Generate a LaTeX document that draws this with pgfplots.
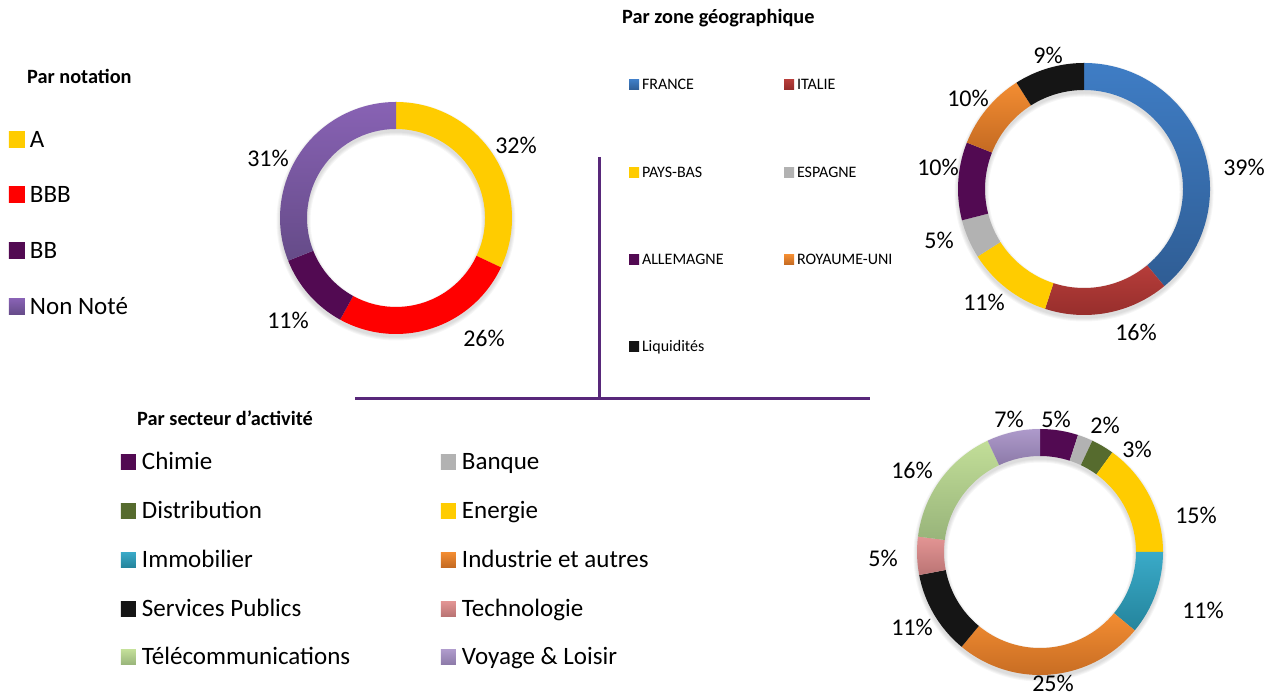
\documentclass[border=0pt]{standalone}
\usepackage{fontspec}
\setmainfont{Carlito}
\usepackage{pgfplots}
\usepackage{pgfplotstable}
\pgfplotsset{compat=1.18}

% colours
\definecolor{cYel}{HTML}{FFCC00}
\definecolor{cRed}{HTML}{FF0000}
\definecolor{cPlum}{HTML}{520A52}
\definecolor{cNNt}{HTML}{8862B4}
\definecolor{cNNb}{HTML}{654B88}
\definecolor{cFRt}{HTML}{3F7DC5}
\definecolor{cFRb}{HTML}{2F5D94}
\definecolor{cITt}{HTML}{B63D3A}
\definecolor{cITb}{HTML}{932C2A}
\definecolor{cGray}{HTML}{B2B2B2}
\definecolor{cOrt}{HTML}{F38D32}
\definecolor{cOrb}{HTML}{C46A22}
\definecolor{cBlk}{HTML}{151515}
\definecolor{cDist}{HTML}{566B2E}
\definecolor{cImt}{HTML}{3AAAC8}
\definecolor{cImb}{HTML}{24849C}
\definecolor{cTet}{HTML}{E39594}
\definecolor{cTeb}{HTML}{BA7474}
\definecolor{cTlt}{HTML}{C2DE98}
\definecolor{cTlb}{HTML}{98B47A}
\definecolor{cVot}{HTML}{AE9ACB}
\definecolor{cVob}{HTML}{8C7AA8}
\definecolor{cLine}{RGB}{88,40,122}

% data: percentage, label offset from centre (x, y), top / bottom colour
\pgfplotstableread{
pct lx ly ct cb
32 120 73 cYel cYel
26 88 -120 cRed cRed
11 -108 -102 cPlum cPlum
31 -128 60 cNNt cNNb
}\tabnotation

\pgfplotstableread{
pct lx ly ct cb
39 160 22 cFRt cFRb
16 52 -143 cITt cITb
11 -100 -113 cYel cYel
5 -145 -51 cGray cGray
10 -146 22 cPlum cPlum
10 -116 91 cOrt cOrb
9 -36 134 cBlk cBlk
}\tabgeo

\pgfplotstableread{
pct lx ly ct cb
5 16 133 cPlum cPlum
2 65 127 cGray cGray
3 97 103 cDist cDist
15 156 37 cYel cYel
11 163 -58 cImt cImb
25 13 -131 cOrt cOrb
11 -128 -75 cBlk cBlk
5 -157 -6 cTet cTeb
16 -128 82 cTlt cTlb
7 -31 133 cVot cVob
}\tabsector

\newcommand\pctfont{\fontsize{24}{28}\selectfont}
\newcommand\geocell[1]{\makebox[136pt][l]{#1}}
\newcommand\seccell[1]{\makebox[280pt][l]{#1}}

% #1 table, #2 cx, #3 cy, #4 outer radius, #5 inner radius
\newcommand\donut[5]{%
  % soft shadow below the ring
  \pgfplotsforeachungrouped \dK in {0.5,1.5,2.5,3.5}{%
    \edef\dTemp{\noexpand\fill[black, opacity=0.035, even odd rule]
      (axis cs:#2,#3-3) circle[radius=#4pt+\dK pt]
      (axis cs:#2,#3-3) circle[radius=#5pt-\dK pt];}\dTemp
  }%
  \pgfplotstablegetrowsof{#1}%
  \pgfmathtruncatemacro\dN{\pgfplotsretval-1}%
  \def\dAcc{0}%
  \pgfplotsforeachungrouped \dI in {0,...,\dN}{%
    \pgfplotstablegetelem{\dI}{pct}\of#1\let\dP\pgfplotsretval
    \pgfplotstablegetelem{\dI}{lx}\of#1\let\dLx\pgfplotsretval
    \pgfplotstablegetelem{\dI}{ly}\of#1\let\dLy\pgfplotsretval
    \pgfplotstablegetelem{\dI}{ct}\of#1\let\dCt\pgfplotsretval
    \pgfplotstablegetelem{\dI}{cb}\of#1\let\dCb\pgfplotsretval
    \pgfmathsetmacro\dSa{90-3.6*\dAcc}%
    \pgfmathsetmacro\dSb{90-3.6*(\dAcc+\dP)}%
    \pgfmathsetmacro\dXa{#2+#4*cos(\dSa)}%
    \pgfmathsetmacro\dYa{#3+#4*sin(\dSa)}%
    \pgfmathsetmacro\dXb{#2+#5*cos(\dSb)}%
    \pgfmathsetmacro\dYb{#3+#5*sin(\dSb)}%
    \pgfmathsetmacro\dLxx{#2+\dLx}%
    \pgfmathsetmacro\dLyy{#3+\dLy}%
    \edef\dTemp{%
      \noexpand\path[top color=\dCt, bottom color=\dCb]
        (axis cs:\dXa,\dYa) arc[start angle=\dSa, end angle=\dSb, radius=#4pt]
        -- (axis cs:\dXb,\dYb) arc[start angle=\dSb, end angle=\dSa, radius=#5pt] -- cycle;
      \noexpand\node[font=\noexpand\pctfont, inner sep=0pt] at (axis cs:\dLxx,\dLyy) {\dP\noexpand\%};
    }\dTemp
    \pgfmathsetmacro\dAcc{\dAcc+\dP}%
  }%
}

\pgfplotsset{
  canvas/.style={at={(0,0)}, anchor=south west, x=1pt, y=1pt,
    xmin=0, xmax=1276, ymin=0, ymax=696, hide axis, clip=false,
    legend cell align=left},
}

\begin{document}
\begin{tikzpicture}[x=1pt, y=1pt]
\useasboundingbox (0,0) rectangle (1276,696);

% separators
\draw[cLine, line width=3pt] (355,297) -- (870,297);
\draw[cLine, line width=3pt] (599,539) -- (599,297);

% titles
\node[anchor=base west, inner sep=0pt, font=\fontsize{20.3}{24}\selectfont\bfseries] at (27,612.7) {Par notation};
\node[anchor=base west, inner sep=0pt, font=\fontsize{20.3}{24}\selectfont\bfseries] at (622,672.7) {Par zone géographique};
\node[anchor=base west, inner sep=0pt, font=\fontsize{20.3}{24}\selectfont\bfseries] at (137,270) {Par secteur d{\char"27}activité};

% Par notation
\begin{axis}[canvas,
  legend image code/.code={\path[#1, draw=none] (0pt,-8pt) rectangle (16pt,8pt);},
  legend style={draw=none, fill=none, inner sep=0pt, outer sep=0pt,
    anchor=north west, at={({9/1276},{565/696})},
    font=\fontsize{25}{30}\selectfont, row sep=39.9pt,
    nodes={inner sep=0pt, text height=16pt, text depth=0pt},
    /tikz/every odd column/.style={column sep=5pt}}]
\donut{\tabnotation}{396}{478}{116}{89}
\addlegendimage{top color=cYel, bottom color=cYel}\addlegendentry{A}
\addlegendimage{top color=cRed, bottom color=cRed}\addlegendentry{BBB}
\addlegendimage{top color=cPlum, bottom color=cPlum}\addlegendentry{BB}
\addlegendimage{top color=cNNt, bottom color=cNNb}\addlegendentry{Non Noté}
\end{axis}

% Par zone geographique
\begin{axis}[canvas,
  legend columns=2,
  legend image code/.code={\path[#1, draw=none] (0pt,-5pt) rectangle (10pt,5pt);},
  legend style={draw=none, fill=none, inner sep=0pt, outer sep=0pt,
    anchor=north west, at={({629/1276},{616/696})},
    font=\fontsize{16}{19}\selectfont, row sep=77.3pt,
    nodes={inner sep=0pt, text height=10pt, text depth=0pt},
    /tikz/every odd column/.style={column sep=3pt},
    /tikz/every even column/.style={column sep=6pt}}]
\donut{\tabgeo}{1084}{507}{126}{99}
\addlegendimage{top color=cFRt, bottom color=cFRb}\addlegendentry{\geocell{FRANCE}}
\addlegendimage{top color=cITt, bottom color=cITb}\addlegendentry{\geocell{ITALIE}}
\addlegendimage{top color=cYel, bottom color=cYel}\addlegendentry{\geocell{PAYS-BAS}}
\addlegendimage{top color=cGray, bottom color=cGray}\addlegendentry{\geocell{ESPAGNE}}
\addlegendimage{top color=cPlum, bottom color=cPlum}\addlegendentry{\geocell{ALLEMAGNE}}
\addlegendimage{top color=cOrt, bottom color=cOrb}\addlegendentry{\geocell{ROYAUME-UNI}}
\addlegendimage{top color=cBlk, bottom color=cBlk}\addlegendentry{\geocell{Liquidités}}
\end{axis}

% Par secteur d'activite
\begin{axis}[canvas,
  legend columns=2,
  legend image code/.code={\path[#1, draw=none] (0pt,-7.5pt) rectangle (15pt,7.5pt);},
  legend style={draw=none, fill=none, inner sep=0pt, outer sep=0pt,
    anchor=north west, at={({121/1276},{241.5/696})},
    font=\fontsize{25}{30}\selectfont, row sep=33.85pt,
    nodes={inner sep=0pt, text height=15pt, text depth=0pt},
    /tikz/every odd column/.style={column sep=6pt},
    /tikz/every even column/.style={column sep=19pt}}]
\donut{\tabsector}{1040}{144}{123}{96}
\addlegendimage{top color=cPlum, bottom color=cPlum}\addlegendentry{\seccell{Chimie}}
\addlegendimage{top color=cGray, bottom color=cGray}\addlegendentry{\seccell{Banque}}
\addlegendimage{top color=cDist, bottom color=cDist}\addlegendentry{\seccell{Distribution}}
\addlegendimage{top color=cYel, bottom color=cYel}\addlegendentry{\seccell{Energie}}
\addlegendimage{top color=cImt, bottom color=cImb}\addlegendentry{\seccell{Immobilier}}
\addlegendimage{top color=cOrt, bottom color=cOrb}\addlegendentry{\seccell{Industrie et autres}}
\addlegendimage{top color=cBlk, bottom color=cBlk}\addlegendentry{\seccell{Services Publics}}
\addlegendimage{top color=cTet, bottom color=cTeb}\addlegendentry{\seccell{Technologie}}
\addlegendimage{top color=cTlt, bottom color=cTlb}\addlegendentry{\seccell{Télécommunications}}
\addlegendimage{top color=cVot, bottom color=cVob}\addlegendentry{\seccell{Voyage \& Loisir}}
\end{axis}
\end{tikzpicture}
\end{document}
